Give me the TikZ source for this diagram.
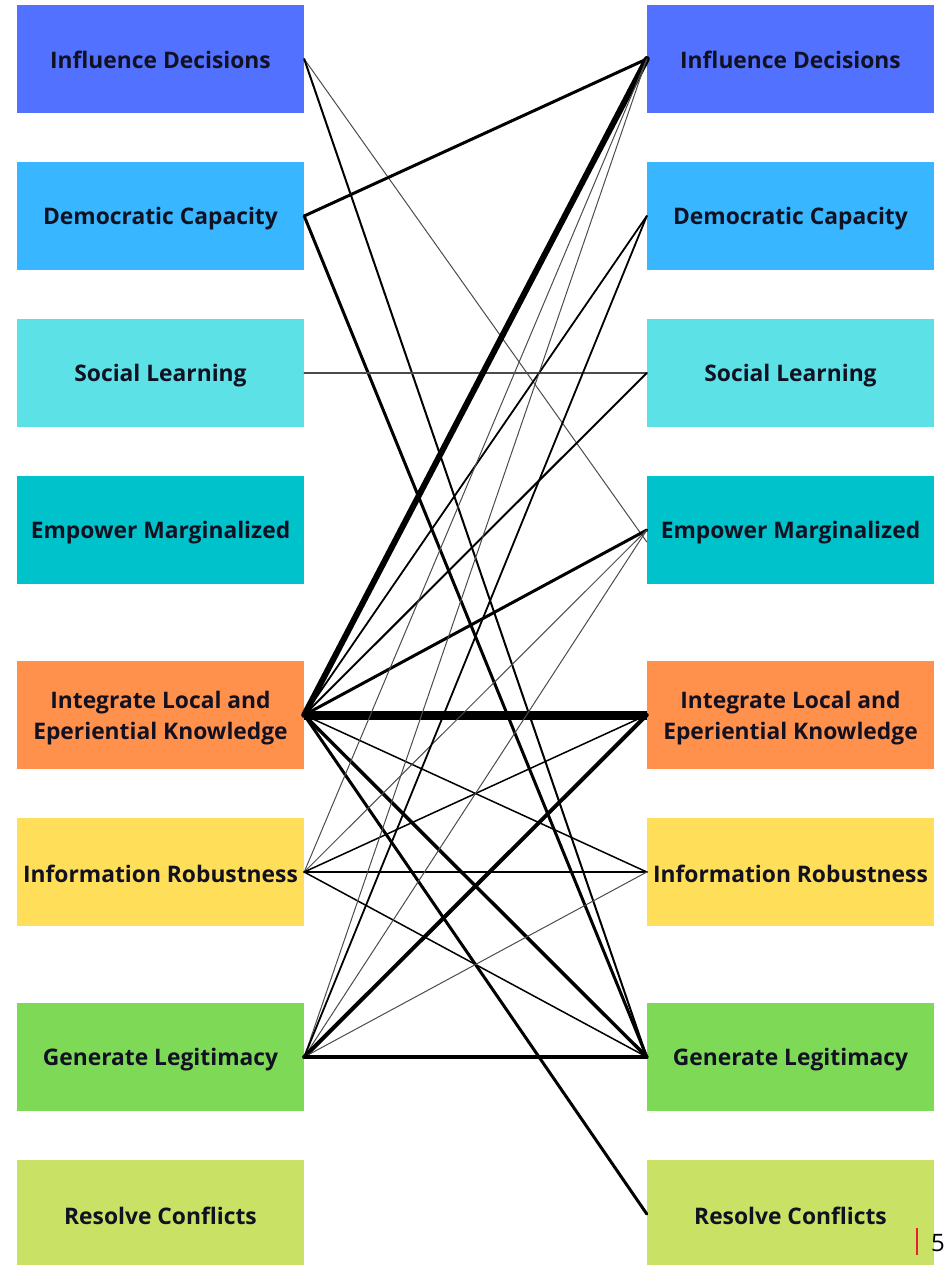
\documentclass[tikz,border=0pt]{standalone}
\usepackage{fontspec}
\setmainfont{Open Sans}
\definecolor{cA}{HTML}{5271FF}
\definecolor{cB}{HTML}{38B6FF}
\definecolor{cC}{HTML}{5CE1E6}
\definecolor{cD}{HTML}{00C2CB}
\definecolor{cE}{HTML}{FF914D}
\definecolor{cF}{HTML}{FFDE59}
\definecolor{cG}{HTML}{7ED957}
\definecolor{cH}{HTML}{C9E265}
\definecolor{txt}{HTML}{111122}
\definecolor{pagered}{HTML}{E8202A}
\tikzset{
  box/.style={minimum width=287pt, minimum height=108pt, inner sep=0pt},
  lbl/.style={inner sep=0pt, align=center, text=txt, font=\fontsize{22.8}{31}\selectfont\bfseries},
  link/.style={line cap=round, draw=black},
  faint/.style={line cap=round, draw=black!70},
}
\begin{document}
\begin{tikzpicture}[x=1pt,y=-1pt]
\useasboundingbox (0,0) rectangle (943,1265);
\begin{scope}
\clip (0,0) rectangle (943,1265);
% left column
\node[box, fill=cA] (L1) at (160.5,59) {};
\node[box, fill=cB] (L2) at (160.5,216) {};
\node[box, fill=cC] (L3) at (160.5,373) {};
\node[box, fill=cD] (L4) at (160.5,530) {};
\node[box, fill=cE] (L5) at (160.5,715) {};
\node[box, fill=cF] (L6) at (160.5,872) {};
\node[box, fill=cG] (L7) at (160.5,1057) {};
\node[box, fill=cH] (L8) at (160.5,1214) {};
% right column
\node[box, fill=cA] (R1) at (790.5,59) {};
\node[box, fill=cB] (R2) at (790.5,216) {};
\node[box, fill=cC] (R3) at (790.5,373) {};
\node[box, fill=cD] (R4) at (790.5,530) {};
\node[box, fill=cE] (R5) at (790.5,715) {};
\node[box, fill=cF] (R6) at (790.5,872) {};
\node[box, fill=cG] (R7) at (790.5,1057) {};
\node[box, fill=cH] (R8) at (790.5,1214) {};
\end{scope}
% labels
\foreach \s in {L,R}{
  \node[lbl] (\s t1) at ([yshift=-1pt]\s1.center) {Influence Decisions};
  \node[lbl] (\s t2) at ([yshift=-3pt]\s2.center) {Democratic Capacity};
  \node[lbl] (\s t3) at ([yshift=-3pt]\s3.center) {Social Learning};
  \node[lbl] (\s t4) at ([yshift=-3pt]\s4.center) {Empower Marginalized};
  \node[lbl] (\s t5) at ([yshift=-3pt]\s5.center) {Integrate Local and\\Eperiential Knowledge};
  \node[lbl] (\s t6) at ([yshift=-2pt]\s6.center) {Information Robustness};
  \node[lbl] (\s t7) at ([yshift=-3pt]\s7.center) {Generate Legitimacy};
  \node[lbl] (\s t8) at ([yshift=-2pt]\s8.center) {Resolve Conflicts};
}
% connectors
\draw[faint, line width=1pt] (L1.east) -- ([yshift=-12pt]R4.west);
\draw[link, line width=2pt] (L1.east) -- (R7.west);
\draw[link, line width=3pt] (L2.east) -- (R1.west);
\draw[link, line width=3pt] (L2.east) -- (R7.west);
\draw[faint, line width=1.3pt] (L3.east) -- (R3.west);
\draw[link, line width=6pt] (L5.east) -- (R1.west);
\draw[link, line width=1.8pt] (L5.east) -- (R2.west);
\draw[link, line width=2pt] (L5.east) -- (R3.west);
\draw[link, line width=3pt] (L5.east) -- (R4.west);
\draw[link, line width=9pt, line cap=butt] (L5.east) -- (R5.west);
\draw[link, line width=1.5pt] (L5.east) -- (R6.west);
\draw[link, line width=3.5pt] (L5.east) -- (R7.west);
\draw[link, line width=3pt] (L5.east) -- (R8.west);
\draw[faint, line width=1pt] (L6.east) -- (R1.west);
\draw[faint, line width=1pt] (L6.east) -- (R4.west);
\draw[link, line width=1.5pt] (L6.east) -- (R5.west);
\draw[link, line width=2.5pt] (L6.east) -- (R6.west);
\draw[link, line width=1.5pt] (L6.east) -- (R7.west);
\draw[faint, line width=1pt] (L7.east) -- (R1.west);
\draw[link, line width=1.8pt] (L7.east) -- (R2.west);
\draw[faint, line width=1pt] (L7.east) -- (R4.west);
\draw[link, line width=4pt] (L7.east) -- (R5.west);
\draw[faint, line width=1pt] (L7.east) -- (R6.west);
\draw[link, line width=3.5pt] (L7.east) -- (R7.west);
% page marker
\draw[pagered, line width=1.5pt] (917,1228) coordinate (pm1) -- (917,1255) coordinate (pm2);
\node[anchor=base west, inner sep=0pt, font=\fontsize{24}{28}\selectfont, text=black] (pg) at (931,1251) {5};
\end{tikzpicture}
\end{document}
